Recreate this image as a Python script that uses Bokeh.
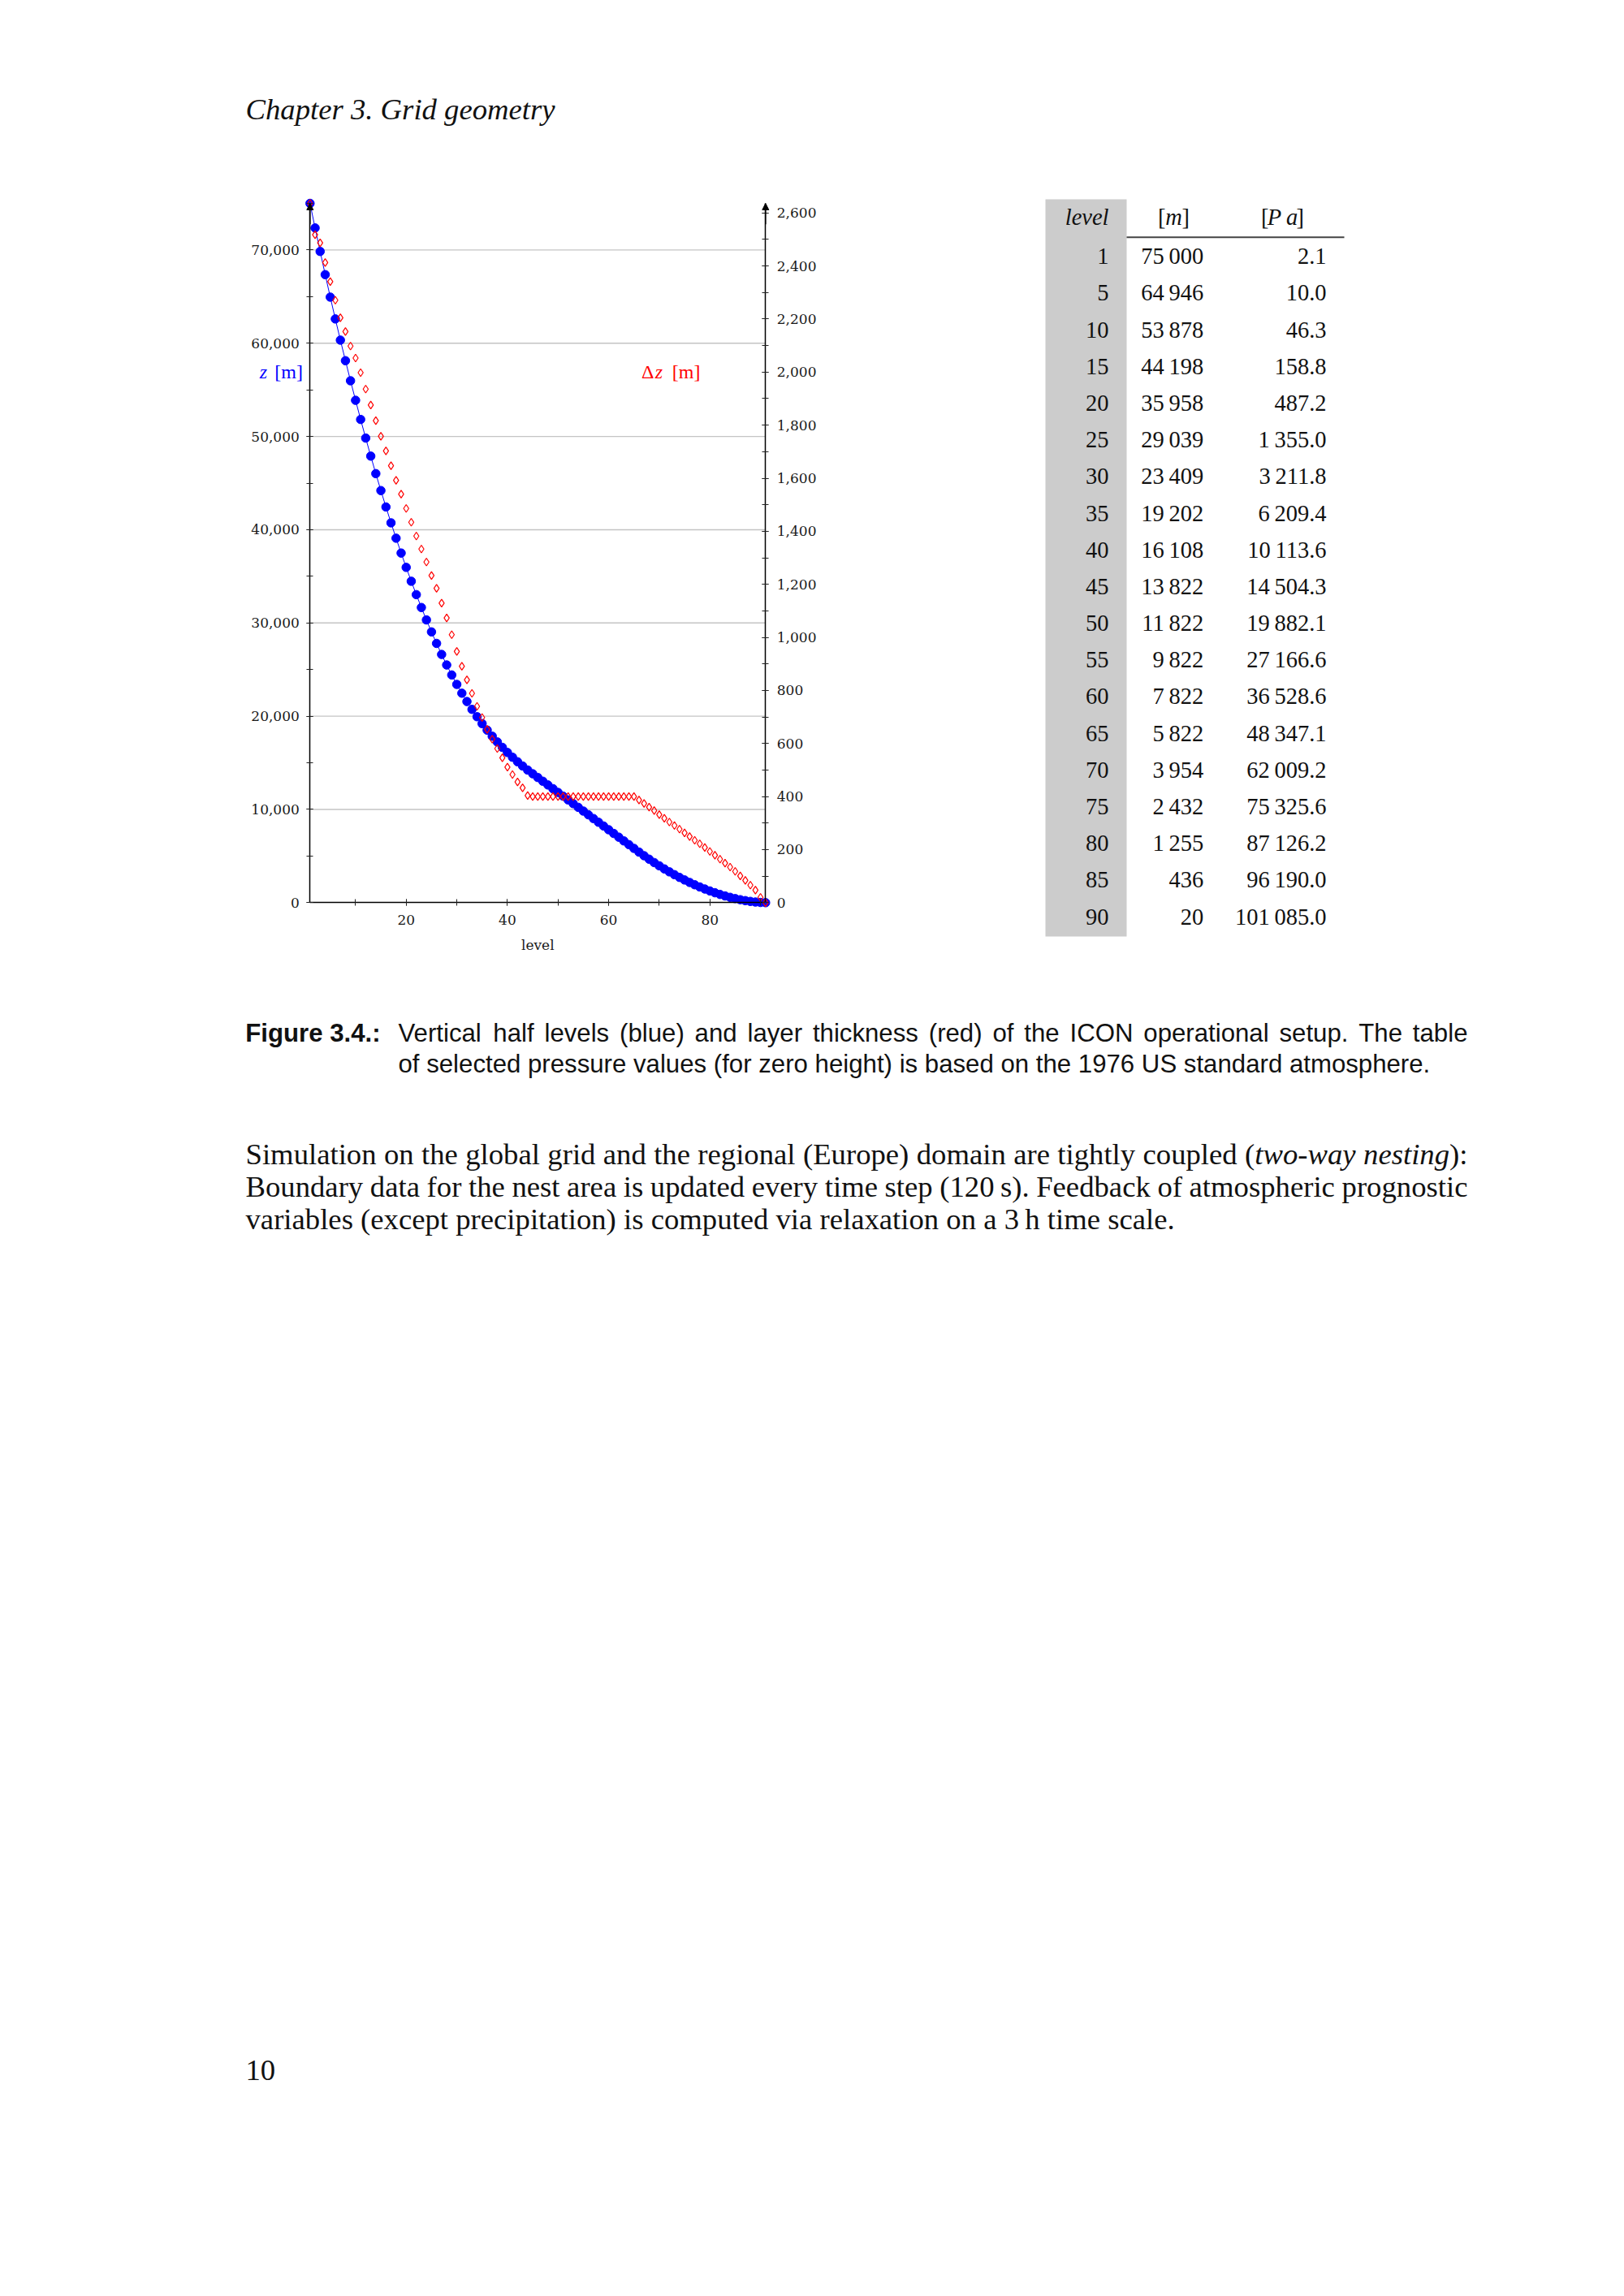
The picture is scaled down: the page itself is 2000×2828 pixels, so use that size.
from bokeh.plotting import figure
from bokeh.layouts import column, row
from bokeh.models import (Range1d, LinearAxis, FixedTicker, NumeralTickFormatter,
                          Label, Arrow, NormalHead)
from bokeh.core.properties import value
from bokeh.embed import file_html
from bokeh.resources import INLINE

# ---------------- data ----------------
levels = list(range(1, 92))
z_half = [75000, 72364, 69846, 67359, 64946, 62605, 60334, 58129, 55976, 53878,
          51825, 49827, 47891, 46015, 44198, 42440, 40737, 39090, 37498, 35958,
          34472, 33038, 31656, 30323, 29039, 27806, 26621, 25492, 24419, 23409,
          22462, 21571, 20731, 19942, 19202, 18504, 17851, 17235, 16654, 16108,
          15597, 15114, 14659, 14226, 13822, 13422, 13022, 12622, 12222, 11822,
          11422, 11022, 10622, 10222, 9822, 9422, 9022, 8622, 8222, 7822,
          7422, 7022, 6622, 6222, 5822, 5422, 5035, 4661, 4301, 3954,
          3622, 3304, 3000, 2709, 2432, 2169, 1920, 1685, 1463, 1255,
          1062, 883, 719, 570, 436, 318, 217, 133, 67, 20, 0]
dz = [2636, 2518, 2487, 2413, 2341, 2271, 2205, 2153, 2098, 2053,
      1998, 1936, 1876, 1817, 1758, 1703, 1647, 1592, 1540, 1486,
      1434, 1382, 1333, 1284, 1233, 1185, 1129, 1073, 1010, 947,
      891, 840, 789, 740, 698, 653, 616, 581, 546, 511,
      483, 455, 433, 404, 400, 400, 400, 400, 400, 400,
      400, 400, 400, 400, 400, 400, 400, 400, 400, 400,
      400, 400, 400, 400, 400, 387, 374, 360, 347, 332,
      318, 304, 291, 277, 263, 249, 235, 222, 208, 193,
      179, 164, 149, 134, 118, 101, 84, 66, 47, 20, 0]

x_major = [20, 40, 60, 80]
x_minor = [10, 20, 30, 40, 50, 60, 70, 80, 90]
z_major = [0, 10000, 20000, 30000, 40000, 50000, 60000, 70000]
z_minor = list(range(0, 75001, 5000))
dz_major = list(range(0, 2601, 200))
dz_minor = list(range(0, 2601, 100))

tab_level = [1, 5, 10, 15, 20, 25, 30, 35, 40, 45, 50, 55, 60, 65, 70, 75, 80, 85, 90]
tab_z = [75000, 64946, 53878, 44198, 35958, 29039, 23409, 19202, 16108, 13822,
         11822, 9822, 7822, 5822, 3954, 2432, 1255, 436, 20]
tab_p = [2.1, 10.0, 46.3, 158.8, 487.2, 1355.0, 3211.8, 6209.4, 10113.6, 14504.3,
         19882.1, 27166.6, 36528.6, 48347.1, 62009.2, 75325.6, 87126.2, 96190.0, 101085.0]

header_text = "Chapter 3. Grid geometry"
x_label = "level"
caption_bold = "Figure 3.4.:"
caption_l1 = "Vertical half levels (blue) and layer thickness (red) of the ICON operational setup. The table"
caption_l2 = "of selected pressure values (for zero height) is based on the 1976 US standard atmosphere."
para_l1 = [[("Simulation", "n")], [("on", "n")], [("the", "n")], [("global", "n")], [("grid", "n")],
           [("and", "n")], [("the", "n")], [("regional", "n")], [("(Europe)", "n")], [("domain", "n")],
           [("are", "n")], [("tightly", "n")], [("coupled", "n")], [("(", "n"), ("two-way", "i")],
           [("nesting", "i"), ("):", "n")]]
para_l2 = "Boundary data for the nest area is updated every time step (120\u2009s). Feedback of atmospheric prognostic"
para_l3 = "variables (except precipitation) is computed via relaxation on a 3\u2009h time scale."
page_no = "10"

BLUE = "#0000ff"
RED = "#ff0000"
TICKFONT = "DejaVu Serif"
SERIF = "Liberation Serif"
SANS = "Liberation Sans"

# --------- font advance widths (per 1000 em), used only to justify lines ---------
_U = "ABCDEFGHIJKLMNOPQRSTUVWXYZ"
_L = "abcdefghijklmnopqrstuvwxyz"
W_SANS = dict(zip(_U, [667, 667, 722, 722, 667, 611, 778, 722, 278, 500, 667, 556, 833, 722, 778,
                       667, 778, 722, 667, 611, 722, 667, 944, 667, 667, 611]))
W_SANS.update(zip(_L, [556, 556, 500, 556, 556, 278, 556, 556, 222, 222, 500, 222, 833, 556, 556,
                       556, 556, 333, 500, 278, 556, 500, 722, 500, 500, 500]))
W_SANS.update({" ": 278, "(": 333, ")": 333, ",": 278, "-": 333, ".": 278, ":": 278, "\u2009": 200})
W_SANS.update({d: 556 for d in "0123456789"})
W_SERIF = dict(zip(_U, [722, 667, 667, 722, 611, 556, 722, 722, 333, 389, 722, 611, 889, 722, 722,
                        556, 722, 667, 556, 611, 722, 722, 944, 722, 722, 611]))
W_SERIF.update(zip(_L, [444, 500, 444, 500, 444, 333, 500, 500, 278, 278, 500, 278, 778, 500, 500,
                        500, 500, 333, 389, 278, 500, 500, 722, 500, 500, 444]))
W_SERIF.update({" ": 250, "(": 333, ")": 333, ",": 250, "-": 333, ".": 250, ":": 278, "\u2009": 200})
W_SERIF.update({d: 500 for d in "0123456789"})
W_SERIF_I = dict(W_SERIF)
W_SERIF_I.update(zip(_L, [500, 500, 444, 500, 444, 278, 500, 500, 278, 278, 444, 278, 722, 500, 500,
                          500, 500, 389, 389, 278, 500, 444, 667, 444, 444, 389]))


def tw(s, table, size):
    return sum(table.get(c, 500) for c in s) * size / 1000.0


def justify(words, x0, x1, size, tables):
    """words: list of list of (text, style); returns list of (x, text, style)."""
    wws = [sum(tw(t, tables[s], size) for t, s in w) for w in words]
    gap = (x1 - x0 - sum(wws)) / (len(words) - 1)
    out = []
    x = x0
    for w, ww in zip(words, wws):
        xx = x
        for t, s in w:
            out.append((xx, t, s))
            xx += tw(t, tables[s], size)
        x += ww + gap
    return out


def mid(baseline, size, k=0.34):
    """vertical centre of the em box for a given text baseline"""
    return baseline - k * size


def text_fig(w, h, x0, y0):
    f = figure(width=w, height=h, x_range=Range1d(x0, x0 + w), y_range=Range1d(y0 + h, y0),
               output_backend="svg", toolbar_location=None,
               x_axis_location=None, y_axis_location=None,
               min_border=0, outline_line_color=None)
    f.grid.visible = False
    return f


PAGE_W = 1990
HEAD_H = 200

# ---------------- header ----------------
HEAD_SIZE = 36.7
head = text_fig(PAGE_W, HEAD_H, 0, 0)
head.text(x=[302], y=[mid(146.7, HEAD_SIZE)], text=[header_text], text_font=value(SERIF),
          text_font_size=f"{HEAD_SIZE}px", text_font_style="italic", text_baseline="middle",
          text_color="#111111")

# ---------------- chart ----------------
X0_PX, X1_PX = 381.3, 942.3      # page px of first / last level
Y0_PX, Y1_PX = 1111.3, 250.0     # page px of zero / max height
FL, FR, FT, FB = 292, 1032, 230, 1185   # frame box on the page
BORDER_R, BORDER_B = 100, 45
ROW_H = FB + BORDER_B - HEAD_H

sx = (levels[-1] - levels[0]) / (X1_PX - X0_PX)
sy = max(z_half) / (Y0_PX - Y1_PX)
sdz = max(dz) / (Y0_PX - Y1_PX)


def lx(px):
    return levels[0] + (px - X0_PX) * sx


def lz(py):
    return (Y0_PX - py) * sy


p = figure(frame_width=FR - FL, frame_height=FB - FT,
           x_range=Range1d(lx(FL), lx(FR)), y_range=Range1d(lz(FB), lz(FT)),
           x_axis_location=None, y_axis_location=None,
           output_backend="svg", toolbar_location=None,
           min_border_left=FL, min_border_top=FT - HEAD_H,
           min_border_bottom=BORDER_B, min_border_right=BORDER_R,
           outline_line_color=None)
p.grid.visible = False
p.extra_y_ranges = {"dz": Range1d((Y0_PX - FB) * sdz, (Y0_PX - FT) * sdz)}

xax = LinearAxis(fixed_location=0, bounds=(levels[0], levels[-1]),
                 ticker=FixedTicker(ticks=x_major, minor_ticks=x_minor))
yax = LinearAxis(fixed_location=levels[0], bounds=(0, max(z_half)),
                 ticker=FixedTicker(ticks=z_major, minor_ticks=z_minor),
                 formatter=NumeralTickFormatter(format="0,0"))
rax = LinearAxis(fixed_location=levels[-1], y_range_name="dz", bounds=(0, max(dz)),
                 ticker=FixedTicker(ticks=dz_major, minor_ticks=dz_minor),
                 formatter=NumeralTickFormatter(format="0,0"))
p.add_layout(xax, "below")
p.add_layout(yax, "left")
p.add_layout(rax, "right")

for ax in [xax, yax, rax]:
    ax.axis_line_color = "black"
    ax.axis_line_width = 1.5
    ax.major_tick_in = 4
    ax.major_tick_out = 4
    ax.minor_tick_in = 4
    ax.minor_tick_out = 4
    ax.major_tick_line_color = "#222222"
    ax.minor_tick_line_color = "#222222"
    ax.major_label_text_font = TICKFONT
    ax.major_label_text_font_size = "17px"
    ax.major_label_text_color = "#1a1a1a"
yax.major_label_standoff = 9
rax.major_label_standoff = 10
xax.major_label_standoff = 11

# x-axis title, centred under the axis
p.add_layout(Label(x=(levels[0] + levels[-1]) / 2, y=lz(1163.3), text=x_label,
                   text_align="center", text_baseline="middle", text_font=TICKFONT,
                   text_font_size="17px", text_color="#1a1a1a"))

# horizontal grid lines between the two axes
gl = z_major[1:]
p.segment(x0=[levels[0]] * len(gl), x1=[levels[-1]] * len(gl), y0=gl, y1=gl,
          line_color="#c4c4c4", line_width=1.4)

p.line(levels, z_half, line_color=BLUE, line_width=1)
p.scatter(levels, z_half, size=10.5, fill_color=BLUE, line_color=BLUE)
p.scatter(levels, dz, marker="diamond", size=9.5, fill_color=None, line_color=RED,
          line_width=1.2, y_range_name="dz")

p.add_layout(Arrow(end=NormalHead(size=8, fill_color="black", line_color="black"),
                   x_start=levels[-1], y_start=max(dz) * 0.97, x_end=levels[-1], y_end=max(dz),
                   y_range_name="dz", line_color="black", line_width=1.5))
p.add_layout(Arrow(end=NormalHead(size=8, fill_color="black", line_color="black"),
                   x_start=levels[0], y_start=max(z_half) * 0.97, x_end=levels[0], y_end=max(z_half),
                   line_color="black", line_width=1.5))

LAB_SIZE = 24
LAB_Y = lz(mid(466, LAB_SIZE))
lab = dict(text_baseline="middle", text_font=SERIF, text_font_size=f"{LAB_SIZE}px")
p.add_layout(Label(x=lx(372.5), y=LAB_Y, text="[m]", text_align="right", text_color=BLUE, **lab))
p.add_layout(Label(x=lx(328.7), y=LAB_Y, text="z", text_align="right", text_color=BLUE,
                   text_font_style="italic", **lab))
p.add_layout(Label(x=lx(862), y=LAB_Y, text="[m]", text_align="right", text_color=RED, **lab))
p.add_layout(Label(x=lx(815.6), y=LAB_Y, text="z", text_align="right", text_color=RED,
                   text_font_style="italic", **lab))
p.add_layout(Label(x=lx(805), y=LAB_Y, text="\u0394", text_align="right", text_color=RED, **lab))

# ---------------- table ----------------
TX0 = FL + (FR - FL) + BORDER_R
TW = PAGE_W - TX0
tb = figure(frame_width=TW, frame_height=FB - FT,
            x_range=Range1d(TX0, PAGE_W), y_range=Range1d(FB, FT),
            output_backend="svg", toolbar_location=None,
            x_axis_location=None, y_axis_location=None,
            min_border_left=0, min_border_right=0,
            min_border_top=FT - HEAD_H, min_border_bottom=BORDER_B,
            outline_line_color=None)
tb.grid.visible = False
TAB_SIZE = 28.5
n = len(tab_level)
row_y = [mid(325 + 45.18 * i, TAB_SIZE) for i in range(n)]
tb.quad(left=[1287], right=[1387], top=[245], bottom=[1153], fill_color="#cccccc", line_color=None)
tb.segment(x0=[1387], y0=[291.7], x1=[1655], y1=[291.7], line_color="#444444", line_width=2)
common = dict(text_font=value(SERIF), text_font_size=f"{TAB_SIZE}px", text_baseline="middle",
              text_color="#111111")
HY = mid(276.7, TAB_SIZE)
tb.text(x=[1365], y=[HY], text=["level"], text_align="right", text_font_style="italic", **common)
tb.text(x=[1435], y=[HY], text=["["], text_align="right", **common)
tb.text(x=[1445], y=[HY], text=["m"], text_align="center", text_font_style="italic", **common)
tb.text(x=[1455], y=[HY], text=["]"], text_align="left", **common)
tb.text(x=[1562], y=[HY], text=["["], text_align="right", **common)
tb.text(x=[1579], y=[HY], text=["P\u2009a"], text_align="center", text_font_style="italic", **common)
tb.text(x=[1596], y=[HY], text=["]"], text_align="left", **common)
tb.text(x=[1365] * n, y=row_y, text=[str(v) for v in tab_level], text_align="right", **common)
tb.text(x=[1481.7] * n, y=row_y, text=[f"{v:,}".replace(",", "\u2009") for v in tab_z],
        text_align="right", **common)
tb.text(x=[1633] * n, y=row_y, text=[f"{v:,.1f}".replace(",", "\u2009") for v in tab_p],
        text_align="right", **common)

# ---------------- caption, paragraph, page number ----------------
BOT_Y0 = HEAD_H + ROW_H
bot = text_fig(PAGE_W, 2820 - BOT_Y0, 0, BOT_Y0)
CAP_SIZE = 31.2
PAR_SIZE = 36.7
cap = dict(text_font=value(SANS), text_font_size=f"{CAP_SIZE}px", text_baseline="middle",
           text_color="#111111")
par = dict(text_font=value(SERIF), text_font_size=f"{PAR_SIZE}px", text_baseline="middle",
           text_color="#111111")
RIGHT = 1807
C1, C2 = mid(1283, CAP_SIZE, 0.347), mid(1321, CAP_SIZE, 0.347)
P1, P2, P3 = mid(1433, PAR_SIZE), mid(1473, PAR_SIZE), mid(1513, PAR_SIZE)

bot.text(x=[301.7], y=[C1], text=[caption_bold], text_font_style="bold", **cap)
segs = justify([[(w, "n")] for w in caption_l1.split(" ")], 490, RIGHT, CAP_SIZE, {"n": W_SANS})
bot.text(x=[s[0] for s in segs], y=[C1] * len(segs), text=[s[1] for s in segs], **cap)
bot.text(x=[490], y=[C2], text=[caption_l2], **cap)

tabs = {"n": W_SERIF, "i": W_SERIF_I}
segs = justify(para_l1, 302, RIGHT, PAR_SIZE, tabs)
for style in ("n", "i"):
    ss = [s for s in segs if s[2] == style]
    bot.text(x=[s[0] for s in ss], y=[P1] * len(ss), text=[s[1] for s in ss],
             text_font_style="italic" if style == "i" else "normal", **par)
segs = justify([[(w, "n")] for w in para_l2.split(" ")], 302, RIGHT, PAR_SIZE, tabs)
bot.text(x=[s[0] for s in segs], y=[P2] * len(segs), text=[s[1] for s in segs], **par)
bot.text(x=[302], y=[P3], text=[para_l3], **par)
bot.text(x=[302], y=[mid(2562, PAR_SIZE)], text=[page_no], **par)

layout = column(head, row(p, tb), bot)
open("out.html", "w").write(file_html(layout, INLINE))
